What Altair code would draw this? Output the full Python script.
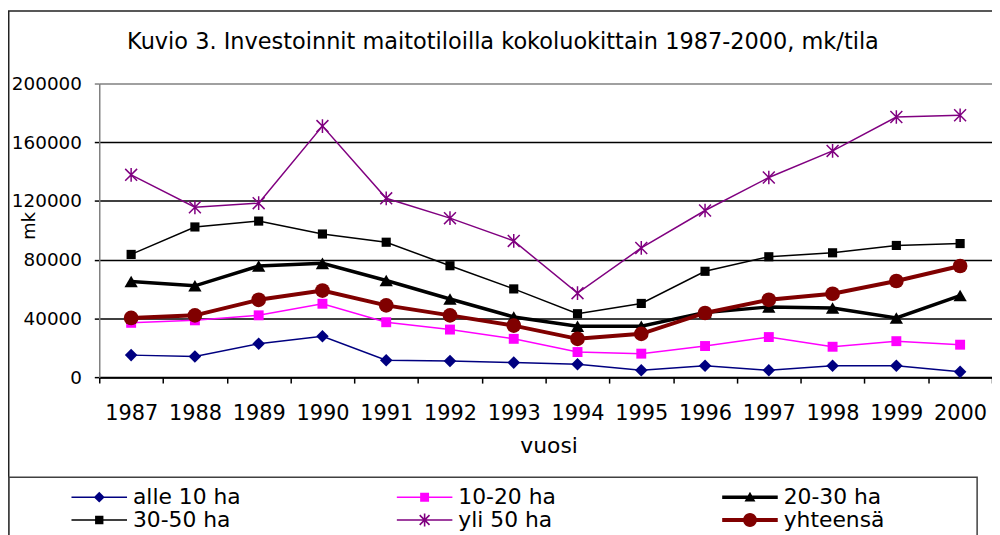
import math
import altair as alt
import pandas as pd

# ---------------- data ----------------
years = list(range(1987, 2001))
series = ["alle 10 ha", "10-20 ha", "20-30 ha", "30-50 ha", "yli 50 ha", "yhteensä"]
alle_10_ha = [15000, 14000, 22800, 27900, 11500, 11000, 9900, 8800, 4700, 7700, 4700, 7700, 7700, 3600]
ha_10_20 = [37000, 38700, 42100, 50000, 37400, 32400, 26100, 17100, 16000, 21200, 27300, 20700, 24500, 22100]
ha_20_30 = [65100, 62200, 75700, 77500, 65800, 53200, 41000, 34700, 34700, 44100, 47800, 47100, 40300, 55600]
ha_30_50 = [83600, 102300, 106300, 97500, 91900, 75900, 60100, 43200, 50200, 72100, 82000, 84700, 89700, 91000]
yli_50_ha = [137800, 115700, 118500, 171000, 121800, 108300, 92800, 57200, 88000, 113500, 136000, 154100, 177200, 178400]
yhteensa = [40300, 42100, 52700, 59000, 48900, 42100, 35100, 26100, 29500, 43700, 52700, 56800, 65500, 75700]
y_ticks = [0, 40000, 80000, 120000, 160000, 200000]

title_text = "Kuvio 3. Investoinnit maitotiloilla kokoluokittain 1987-2000, mk/tila"

all_values = [alle_10_ha, ha_10_20, ha_20_30, ha_30_50, yli_50_ha, yhteensa]
rows = []
for name, vals in zip(series, all_values):
    for yr, v in zip(years, vals):
        rows.append({"series": name, "year": yr, "value": v})
df = pd.DataFrame(rows)

# ---------------- styles ----------------
FONT = "DejaVu Sans"
colors = ["#000080", "#FF00FF", "#000000", "#000000", "#800080", "#800000"]
line_widths = [1.5, 1.5, 3.5, 1.5, 1.5, 4]
ASTERISK = "M-1,-1L1,1M-1,1L1,-1M0,-1.15L0,1.15"
point_shapes = ["diamond", "square", "triangle-up", "square", ASTERISK, "circle"]
point_sizes = [160, 100, 180, 85, 144, 220]
point_filled = [True, True, True, True, False, True]

# legend symbols: line segment + marker drawn as one filled path.
# Nominal symbol size is 22 px (1 unit = 11 px); the path is shifted right so
# the drawn line spans 56 px starting at the entry's left edge.
SYM = 22.0
PX = 2.0 / SYM
CX = (28.0 - SYM / 2) * PX  # horizontal shift of the symbol centre


def poly(pts):
    pts = [(x + CX, y) for x, y in pts]
    s = sum(pts[i][0] * pts[(i + 1) % len(pts)][1] - pts[(i + 1) % len(pts)][0] * pts[i][1]
            for i in range(len(pts)))
    if s < 0:
        pts = pts[::-1]
    return "M" + "L".join(f"{x:.4f},{y:.4f}" for x, y in pts) + "Z"


def hline(half_px):
    h = half_px * PX
    L = 28 * PX
    return poly([(-L, -h), (L, -h), (L, h), (-L, h)])


def bar(angle_deg, half_len, half_w):
    a = math.radians(angle_deg)
    d = (math.cos(a), math.sin(a))
    n = (-d[1], d[0])
    L, W = half_len * PX, half_w * PX
    return poly([(L * d[0] + W * n[0], L * d[1] + W * n[1]),
                 (L * d[0] - W * n[0], L * d[1] - W * n[1]),
                 (-L * d[0] - W * n[0], -L * d[1] - W * n[1]),
                 (-L * d[0] + W * n[0], -L * d[1] + W * n[1])])


def diamond(r):
    r *= PX
    return poly([(-r, 0), (0, -r), (r, 0), (0, r)])


def square(r):
    r *= PX
    return poly([(-r, -r), (r, -r), (r, r), (-r, r)])


def triangle(r):
    r *= PX
    return poly([(0, -r), (r, r * 0.8), (-r, r * 0.8)])


def circle(r):
    r *= PX
    return poly([(r * math.cos(2 * math.pi * k / 28), r * math.sin(2 * math.pi * k / 28)) for k in range(28)])


legend_paths = [
    hline(0.75) + diamond(5.5),
    hline(0.75) + square(4.5),
    hline(1.75) + triangle(5.5),
    hline(0.75) + square(4.2),
    hline(0.75) + bar(90, 6.5, 0.8) + bar(45, 7, 0.8) + bar(135, 7, 0.8),
    hline(2.0) + circle(7.0),
]

# ---------------- encodings ----------------
x_axis = alt.Axis(
    title="vuosi", labelAngle=0, tickBand="extent", tickSize=6, tickColor="black", tickWidth=1.5,
    domainColor="black", domainWidth=2, labelFont=FONT, labelFontSize=21, labelColor="black",
    labelBaseline="alphabetic", labelPadding=37, labelOverlap=False, grid=False,
    titleFont=FONT, titleFontSize=22, titleFontWeight="normal", titleColor="black",
    titleX=453, titleY=69, titleBaseline="middle", titleAlign="center",
)
y_axis = alt.Axis(
    title="mk", values=y_ticks, format="d", grid=True,
    gridColor={"condition": {"test": "datum.value == 200000", "value": "#808080"}, "value": "black"},
    gridWidth=1.5, domainColor="#808080", domainWidth=1.5, tickSize=5,
    tickColor={"condition": {"test": "datum.value == 200000", "value": "#808080"}, "value": "black"},
    tickWidth=1.5, labelFont=FONT, labelFontSize=18.5, labelColor="black", labelPadding=13,
    titleFont=FONT, titleFontSize=18, titleFontWeight="normal", titleColor="black",
    titleX=-70, titleY=143, titleAlign="center", titleBaseline="middle",
)
X = alt.X("year:O", scale=alt.Scale(type="band", paddingInner=0, paddingOuter=0), bandPosition=0.5, axis=x_axis)
Y = alt.Y("value:Q", scale=alt.Scale(domain=[0, 200000], nice=False), axis=y_axis)

# ---------------- layers ----------------
deco = pd.DataFrame({"k": [0]})
outer_frame = alt.Chart(deco).mark_rect(filled=False, stroke="#222222", strokeWidth=1.5).encode(
    x=alt.value(-91.25), x2=alt.value(1100), y=alt.value(-73), y2=alt.value(700))
legend_box = alt.Chart(deco).mark_rect(filled=False, stroke="#404040", strokeWidth=1.5).encode(
    x=alt.value(-91.25), x2=alt.value(885), y=alt.value(397), y2=alt.value(700))
title_layer = alt.Chart(pd.DataFrame({"title": [title_text]})).mark_text(
    font=FONT, fontSize=22.6, color="black", align="center", baseline="alphabetic").encode(
    text="title:N", x=alt.value(407), y=alt.value(-34.5))

layers = [outer_frame, legend_box, title_layer]
for i, name in enumerate(series):
    base = alt.Chart(df).transform_filter(alt.datum.series == name)
    layers.append(base.mark_line(color=colors[i], strokeWidth=line_widths[i]).encode(x=X, y=Y))
    layers.append(base.mark_point(color=colors[i], shape=point_shapes[i], size=point_sizes[i],
                                  filled=point_filled[i], opacity=1, strokeWidth=1.5).encode(x=X, y=Y))

legend = alt.Legend(
    title=None, orient="none", legendX=-28, legendY=406, direction="horizontal", columns=3,
    columnPadding=157, rowPadding=1, gridAlign="all", symbolSize=SYM * SYM, symbolStrokeWidth=0,
    symbolOpacity=1, labelFont=FONT, labelFontSize=22, labelColor="black", labelOffset=40,
    labelLimit=400, padding=0,
    labelExpr=("datum.value == 'yli 50 ha' ? '\u00a0' + datum.label : "
               "(datum.value == 'yhteensä' ? '\u00a0\u00a0' + datum.label : datum.label)"),
)
legend_layer = alt.Chart(df).transform_filter("datum.year < 0").mark_point(filled=True, opacity=1).encode(
    x=X, y=Y,
    color=alt.Color("series:N", scale=alt.Scale(domain=series, range=colors), legend=legend),
    shape=alt.Shape("series:N", scale=alt.Scale(domain=series, range=legend_paths), legend=legend),
)
layers.append(legend_layer)

H = 527
chart = alt.layer(*layers).properties(
    width=900, height=296,
    padding={"left": 92, "top": 74, "right": 0, "bottom": H - 370},
    autosize=alt.AutoSizeParams(type="none"),
    background="white",
).configure_view(stroke=None)

chart.save("out.html", embed_options={"renderer": "svg", "actions": False})
